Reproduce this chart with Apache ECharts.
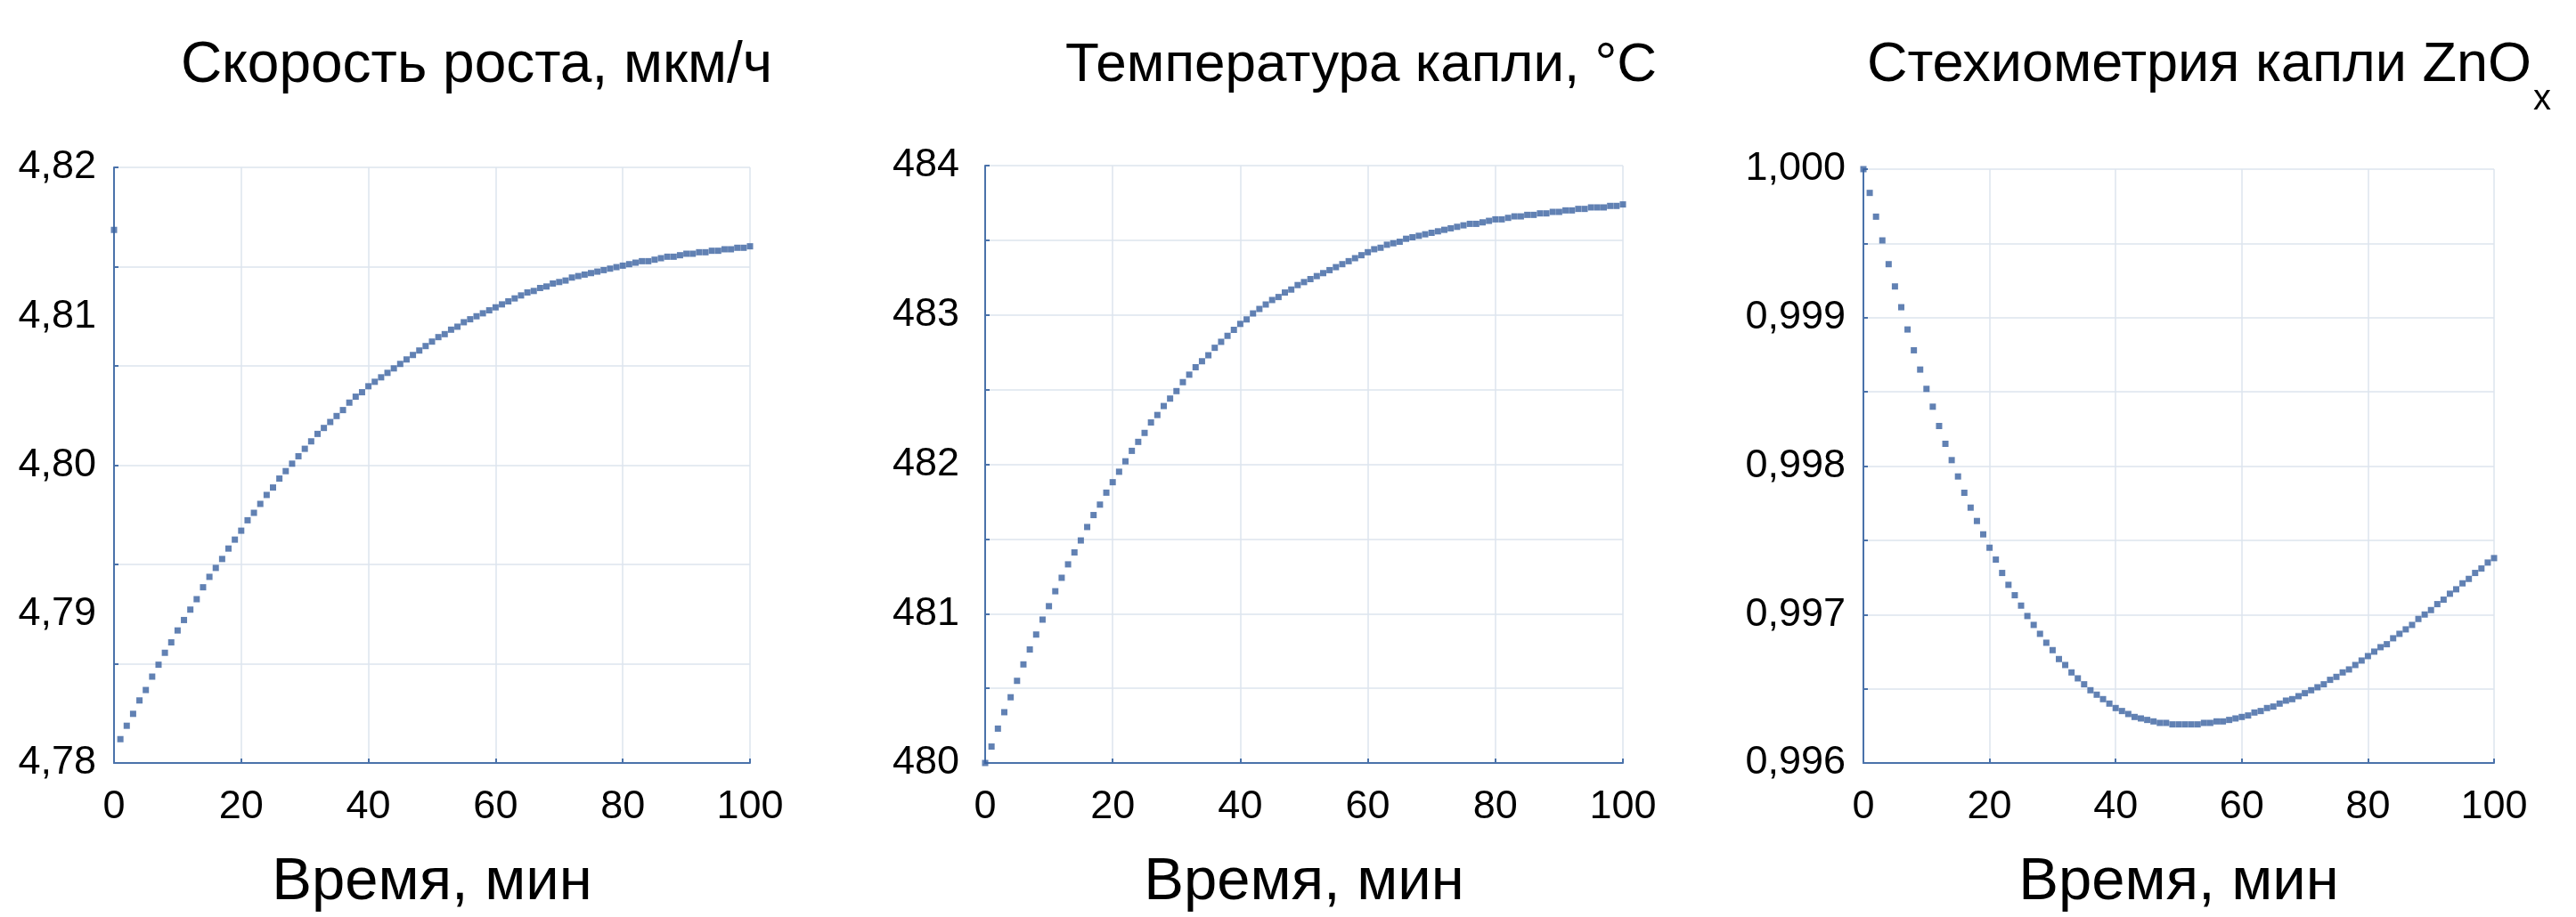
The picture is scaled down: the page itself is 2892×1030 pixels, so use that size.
<!DOCTYPE html>
<html>
<head>
<meta charset="utf-8">
<script src="https://cdn.jsdelivr.net/npm/echarts@6/dist/echarts.min.js"></script>
<style>html,body{margin:0;padding:0;background:#fff;}#c{width:2892px;height:1030px;}</style>
</head>
<body>
<div id="c"></div>
<script>
const time = [0,1,2,3,4,5,6,7,8,9,10,11,12,13,14,15,16,17,18,19,20,21,22,23,24,25,26,27,28,29,30,31,32,33,34,35,36,37,38,39,40,41,42,43,44,45,46,47,48,49,50,51,52,53,54,55,56,57,58,59,60,61,62,63,64,65,66,67,68,69,70,71,72,73,74,75,76,77,78,79,80,81,82,83,84,85,86,87,88,89,90,91,92,93,94,95,96,97,98,99,100];
const growthRate = [4.8158,4.7816,4.7825,4.7833,4.7842,4.7849,4.7858,4.7866,4.7874,4.7881,4.7889,4.7896,4.7903,4.7910,4.7918,4.7925,4.7931,4.7937,4.7944,4.7950,4.7956,4.7963,4.7968,4.7974,4.7980,4.7985,4.7991,4.7996,4.8001,4.8006,4.8011,4.8016,4.8021,4.8025,4.8029,4.8033,4.8037,4.8042,4.8046,4.8049,4.8053,4.8056,4.8059,4.8062,4.8065,4.8068,4.8071,4.8074,4.8077,4.8080,4.8083,4.8086,4.8088,4.8091,4.8093,4.8096,4.8098,4.8100,4.8102,4.8104,4.8106,4.8108,4.8110,4.8112,4.8114,4.8116,4.8117,4.8119,4.8120,4.8122,4.8123,4.8124,4.8126,4.8127,4.8128,4.8129,4.8130,4.8131,4.8132,4.8133,4.8134,4.8135,4.8136,4.8137,4.8137,4.8138,4.8139,4.8140,4.8140,4.8141,4.8142,4.8142,4.8143,4.8143,4.8144,4.8144,4.8145,4.8145,4.8146,4.8146,4.8147];
const dropTemp = [480.00,480.11,480.23,480.34,480.44,480.55,480.66,480.76,480.86,480.96,481.05,481.15,481.24,481.33,481.41,481.49,481.58,481.66,481.73,481.81,481.88,481.95,482.02,482.09,482.15,482.21,482.28,482.33,482.39,482.44,482.49,482.55,482.60,482.65,482.69,482.73,482.78,482.82,482.86,482.90,482.94,482.97,483.01,483.04,483.07,483.10,483.12,483.15,483.17,483.20,483.22,483.24,483.26,483.28,483.30,483.32,483.34,483.36,483.38,483.40,483.42,483.44,483.45,483.47,483.48,483.49,483.51,483.52,483.53,483.54,483.55,483.56,483.57,483.58,483.59,483.60,483.61,483.61,483.62,483.63,483.64,483.64,483.65,483.66,483.66,483.67,483.67,483.68,483.68,483.69,483.69,483.70,483.70,483.71,483.71,483.72,483.72,483.72,483.73,483.73,483.74];
const stoich = [1.00000,0.99984,0.99968,0.99952,0.99936,0.99921,0.99907,0.99892,0.99878,0.99865,0.99852,0.99840,0.99827,0.99815,0.99804,0.99793,0.99782,0.99772,0.99763,0.99754,0.99745,0.99737,0.99728,0.99720,0.99713,0.99706,0.99699,0.99693,0.99687,0.99681,0.99676,0.99670,0.99666,0.99661,0.99657,0.99653,0.99649,0.99646,0.99643,0.99640,0.99637,0.99635,0.99633,0.99631,0.99630,0.99629,0.99628,0.99627,0.99627,0.99626,0.99626,0.99626,0.99626,0.99626,0.99627,0.99627,0.99628,0.99628,0.99629,0.99630,0.99631,0.99632,0.99634,0.99635,0.99637,0.99638,0.99640,0.99642,0.99643,0.99645,0.99647,0.99649,0.99651,0.99653,0.99656,0.99658,0.99661,0.99663,0.99666,0.99669,0.99672,0.99675,0.99678,0.99680,0.99684,0.99687,0.99690,0.99693,0.99697,0.99700,0.99703,0.99707,0.99710,0.99714,0.99717,0.99721,0.99724,0.99728,0.99731,0.99735,0.99738];

const titles = ['Скорость роста, мкм/ч', 'Температура капли, °С', 'Стехиометрия капли ZnO'];
const titleSub = 'x';
const xName = 'Время, мин';

const FONT = '"Liberation Sans", Arial, sans-serif';
const AX = '#4a72aa';
const GRID = '#dde4ee';
const MK = '#3a62a0';
const TICK_FS = 45;

const grids = [
  {left:128, top:188, width:714, height:680},
  {left:1106, top:186, width:716, height:682},
  {left:2092, top:190, width:708, height:673}
];

function xAxisFor(i){
  return {
    type:'value', gridIndex:i, min:0, max:100, interval:20,
    axisLine:{show:true, lineStyle:{color:AX, width:2}},
    axisTick:{show:true, inside:true, length:5, lineStyle:{color:AX, width:2}},
    axisLabel:{fontSize:TICK_FS, color:'#000', margin:27, fontFamily:FONT, showMinLabel:true, showMaxLabel:true},
    splitLine:{show:true, lineStyle:{color:GRID, width:1.5}},
    name:xName, nameLocation:'middle', nameGap:101,
    nameTextStyle:{fontSize:67, color:'#000', fontFamily:FONT}
  };
}
const yLabel = {fontSize:TICK_FS, color:'#000', fontFamily:FONT, margin:20, padding:[10,0,0,0], showMinLabel:true, showMaxLabel:true};

const option = {
  animation:false,
  backgroundColor:'#fff',
  grid: grids,
  xAxis: [xAxisFor(0), xAxisFor(1), xAxisFor(2)],
  yAxis: [
    {type:'value', gridIndex:0, min:4.78, max:4.82, interval:0.01,
     axisLine:{show:true, lineStyle:{color:AX, width:2}}, axisTick:{show:false}, splitLine:{show:false},
     axisLabel:Object.assign({}, yLabel, {formatter:v=>v.toFixed(2).replace('.',',')})},
    {type:'value', gridIndex:0, min:0, max:6, interval:1, position:'left',
     axisLine:{show:false}, axisTick:{show:true, inside:true, length:5, lineStyle:{color:AX, width:2}},
     splitLine:{show:true, lineStyle:{color:GRID, width:1.5}}, axisLabel:{show:false}},
    {type:'value', gridIndex:1, min:480, max:484, interval:0.5,
     axisLine:{show:true, lineStyle:{color:AX, width:2}}, axisTick:{show:true, inside:true, length:5, lineStyle:{color:AX, width:2}},
     splitLine:{show:true, lineStyle:{color:GRID, width:1.5}},
     axisLabel:Object.assign({}, yLabel, {margin:29, formatter:v=>Math.abs(v-Math.round(v))<1e-6 ? String(Math.round(v)) : ''})},
    {type:'value', gridIndex:2, min:0.996, max:1.0, interval:0.0005,
     axisLine:{show:true, lineStyle:{color:AX, width:2}}, axisTick:{show:true, inside:true, length:5, lineStyle:{color:AX, width:2}},
     splitLine:{show:true, lineStyle:{color:GRID, width:1.5}},
     axisLabel:Object.assign({}, yLabel, {formatter:v=>{const k=Math.round((v-0.996)/0.0005); return k%2===0 ? v.toFixed(3).replace('.',',') : '';}})}
  ],
  series: [
    {type:'scatter', xAxisIndex:0, yAxisIndex:0, data:time.map((t,i)=>[t, growthRate[i]]), symbol:'rect', symbolSize:7, itemStyle:{color:MK}, silent:true, z:5},
    {type:'scatter', xAxisIndex:1, yAxisIndex:2, data:time.map((t,i)=>[t, dropTemp[i]]), symbol:'rect', symbolSize:7, itemStyle:{color:MK}, silent:true, z:5},
    {type:'scatter', xAxisIndex:2, yAxisIndex:3, data:time.map((t,i)=>[t, stoich[i]]), symbol:'rect', symbolSize:7, itemStyle:{color:MK}, silent:true, z:5}
  ],
  graphic: [
    {type:'text', style:{text:titles[0], x:535, y:74, font:'64px '+FONT, fill:'#000', textAlign:'center', align:'center', textVerticalAlign:'middle', verticalAlign:'middle'}},
    {type:'text', style:{text:titles[1], x:1528, y:74, font:'62px '+FONT, fill:'#000', textAlign:'center', align:'center', textVerticalAlign:'middle', verticalAlign:'middle'}},
    {type:'text', style:{text:titles[2], x:2842, y:74, font:'63px '+FONT, fill:'#000', textAlign:'right', align:'right', textVerticalAlign:'middle', verticalAlign:'middle'}},
    {type:'text', style:{text:titleSub, x:2844, y:112, font:'40px '+FONT, fill:'#000', textAlign:'left', align:'left', textVerticalAlign:'middle', verticalAlign:'middle'}}
  ]
};
const chart = echarts.init(document.getElementById('c'), null, {renderer:'canvas', width:2892, height:1030});
chart.setOption(option);
</script>
</body>
</html>
